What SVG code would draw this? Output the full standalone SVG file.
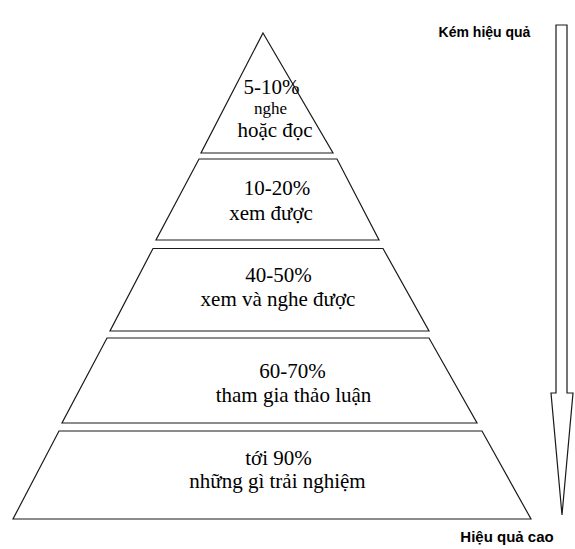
<svg xmlns="http://www.w3.org/2000/svg" width="575" height="549" viewBox="0 0 575 549">
<style>
.shape{fill:#fff;stroke:#1a1a1a;stroke-width:1.2;stroke-linejoin:miter}
.t{font-family:"Liberation Serif","Times New Roman",serif;font-size:21px;fill:#000;text-anchor:middle}
.s{font-size:17px}
.lbl{font-family:"Liberation Sans",Arial,sans-serif;font-weight:bold;font-size:14px;fill:#000;text-anchor:middle}
</style>
<rect width="575" height="549" fill="#fff"/>
<g id="layer1">
<polygon class="shape" points="263,33 333,153 201,153"/>
<text class="t" x="271.5" y="94">5-10%</text>
<text class="t s" x="270.5" y="114">nghe</text>
<text class="t" x="275" y="137">hoặc đọc</text>
</g>
<g id="layer2">
<polygon class="shape" points="199,159 337,159 379,240 156,240"/>
<text class="t" x="277" y="195">10-20%</text>
<text class="t" x="271" y="219.5">xem được</text>
</g>
<g id="layer3">
<polygon class="shape" points="153,248.5 383,248.5 429,331 110,331"/>
<text class="t" x="278.5" y="282">40-50%</text>
<text class="t" x="278" y="306">xem và nghe được</text>
</g>
<g id="layer4">
<polygon class="shape" points="107,338 429,338 477,423 62,423"/>
<text class="t" x="292.5" y="378">60-70%</text>
<text class="t" x="293.5" y="402">tham gia thảo luận</text>
</g>
<g id="layer5">
<polygon class="shape" points="59,431 482,431 531,519 13,519"/>
<text class="t" x="278.5" y="465">tới 90%</text>
<text class="t" x="277.5" y="488">những gì trải nghiệm</text>
</g>
<g id="connectors">
<polygon class="shape" points="556,25 567,25 567,393 573,393 562,515 551,393 556,393"/>
</g>
<g id="labels">
<text class="lbl" x="484.5" y="37">Kém hiệu quả</text>
<text class="lbl" x="507" y="542" style="font-size:15px">Hiệu quả cao</text>
</g>
</svg>
